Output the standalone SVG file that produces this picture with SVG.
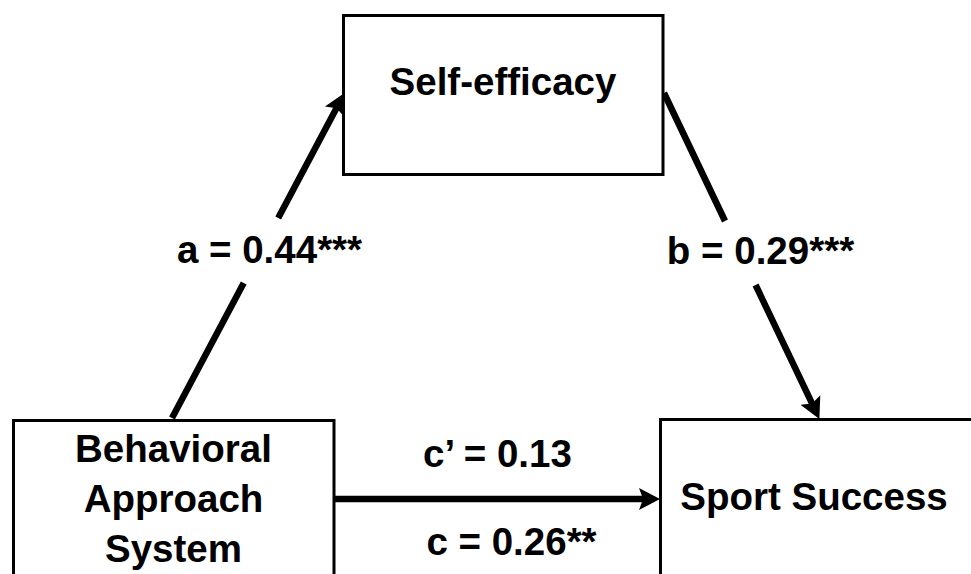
<svg xmlns="http://www.w3.org/2000/svg" width="971" height="574" viewBox="0 0 971 574">
  <style>
    .box { fill: #ffffff; stroke: #000000; stroke-width: 3; }
    .lbl { font-family: "Liberation Sans", Arial, sans-serif; font-weight: bold; font-size: 38.5px; fill: #000000; text-anchor: middle; }
    .conn { fill: none; stroke: #000000; stroke-width: 6.5; stroke-linecap: butt; }
  </style>
  <defs>
    <marker id="arrow" markerUnits="userSpaceOnUse" markerWidth="22" markerHeight="24" viewBox="0 0 22 24" refX="8" refY="12" orient="auto">
      <path d="M0,1 L21,12 L0,23 L4,12 z" fill="#000000"/>
    </marker>
  </defs>
  <rect width="971" height="574" fill="#ffffff"/>

  <g id="connectors">
    <path class="conn" d="M172,418 L243.7,283 M278.2,218 L338.4,104.6" marker-end="url(#arrow)"/>
    <path class="conn" d="M664,93 L725,221 M755.6,285 L813.8,407.2" marker-end="url(#arrow)"/>
    <path class="conn" d="M335,499 L647,499" marker-end="url(#arrow)"/>
    <text class="lbl" x="269.5" y="263">a = 0.44***</text>
    <text class="lbl" x="760.5" y="264">b = 0.29***</text>
    <text class="lbl" x="497.5" y="467">c’ = 0.13</text>
    <text class="lbl" x="511.5" y="555">c = 0.26**</text>
  </g>

  <g id="self-efficacy">
    <rect class="box" x="343.5" y="15.5" width="319.5" height="159"/>
    <text class="lbl" x="503" y="95">Self-efficacy</text>
  </g>

  <g id="behavioral-approach-system">
    <rect class="box" x="13.5" y="420.5" width="320.5" height="170"/>
    <text class="lbl" x="173.5" y="462">Behavioral</text>
    <text class="lbl" x="173.5" y="512">Approach</text>
    <text class="lbl" x="173.5" y="562">System</text>
  </g>

  <g id="sport-success">
    <rect class="box" x="660.5" y="419.5" width="330" height="170"/>
    <text class="lbl" x="814" y="510">Sport Success</text>
  </g>
</svg>
